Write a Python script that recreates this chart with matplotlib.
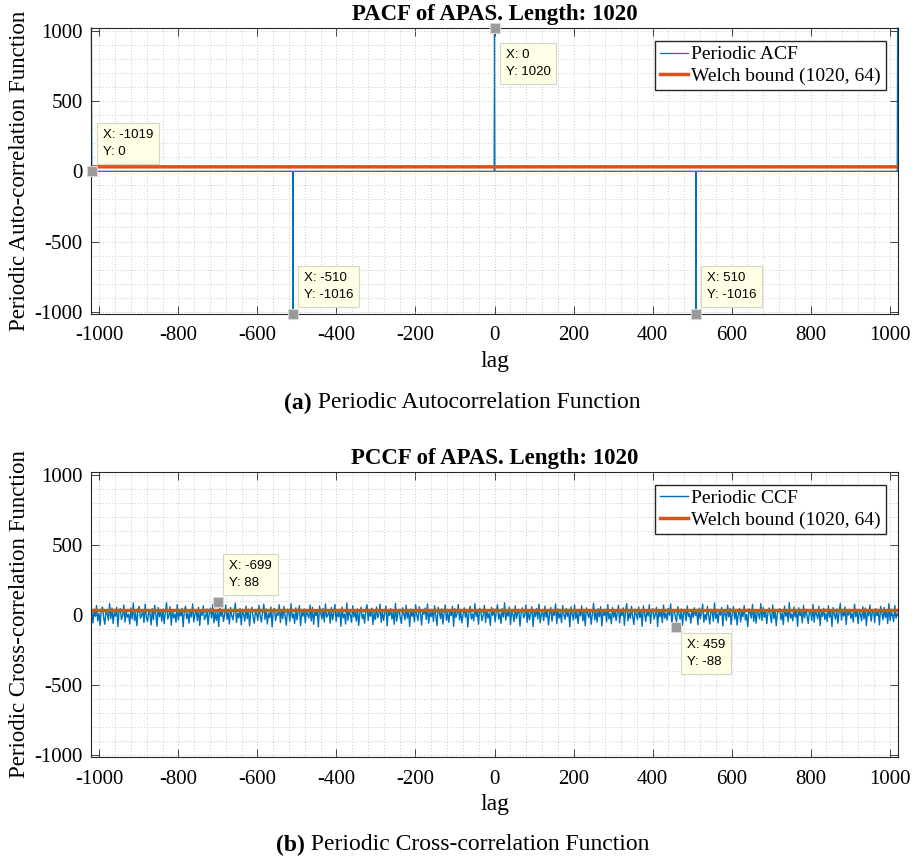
import numpy as np
import matplotlib
matplotlib.use("Agg")
import matplotlib.pyplot as plt
from matplotlib.ticker import MultipleLocator

# ---- data ----
welch = 31.7  # Welch bound (1020, 64)

acf_lag = np.arange(-1020, 1021)
acf_peak_lags = [-1020, -510, 0, 510, 1020]
acf_peak_vals = [1020, -1016, 1020, -1016, 1020]

# periodic CCF (every 3rd lag)
ccf_vals = [
    24, -58, 40, -12, 66, -44, 10, -76, 30, 56, -22, -68, 36, 8, -40, 80, -28, 48, -62, 16,
    -10, 54, -84, 22, 44, -34, -6, 70, -52, 26, -18, 4, -66, 50, -30, 84, -42, 14, -78, 38,
    60, -26, -4, 32, -56, 76, -20, -48, 22, 12, -72, 44, -36, 68, 2, -82, 52, -14, 28, -46,
    40, -64, 18, 86, -30, -10, 58, -74, 34, -22, 6, -54, 72, -38, 20, -8, 46, -86, 26, 62,
    -28, 14, -60, 36, -16, 78, -50, 4, 32, -42, 54, -76, 22, -4, 64, -34, -18, 42, -70, 10,
    48, -24, 74, -58, 16, -40, 28, -84, 60, -12, 36, -48, 0, 70, -32, 18, -66, 52, -8, -36,
    26, 82, -54, 12, -22, 46, -72, 34, 4, -46, 62, -28, 40, -80, 16, 54, -16, -60, 30, 6,
    -40, 68, -10, -52, 22, 76, -34, 42, -66, 10, -20, 56, -88, 28, 46, -42, 12, -4, 72, -56,
    34, -28, 60, -12, -74, 40, 18, -46, 80, -22, 6, -62, 50, -36, 24, 66, -78, 16, -10, 42,
    -58, 30, 4, -24, 70, -44, 54, -68, 22, -6, 36, -86, 62, 12, -30, 46, -52, 78, -18, 0,
    28, -60, 52, -36, 10, 74, -48, 18, -14, 40, -82, 56, -22, 6, -66, 84, -40, 30, -2, -54,
    64, -16, 22, -46, 42, -76, 12, 54, -28, 4, -60, 36, 72, -42, 24, -10, 48, -70, 16, -34,
    56, -22, 0, 76, -54, 28, -40, 12, 62, -80, 34, -6, 44, -30, 18, -68, 82, -46, 10, 38,
    -18, -62, 50, 6, -36, 68, -24, 30, -84, 42, -12, 22, -50, 72, -4, -42, 58, 14, -74, 28,
    4, 48, -34, 78, -60, 18, -14, 36, -48, 64, -10, -78, 54, 24, -28, 42, -66, 12, 70, -40,
    16, -54, 34, -6, 60, -82, 44, -20, 10, 74, -36, 26, -58, 4, 50, -18, 38, -88, 20, 62,
    -30, 6, -44, 80, -12, 30, -68, 48, 18, -42, 0, 68, -56, 36, -24, 12, -76, 54, -4, 42,
    -50, 24, 72, -32, 10, -62, 44, -16, 86, -38, 20, -10, 56, -70, 30, 2, -48, 64, -26, 14,
    38, -80, 18, 50, -22, -6, 70, -54, 32, -36, 12, 58, -84, 26, -12, 44, -30, 76, -58, 6,
    20, -42, 62, -18, 36, -72, 10, 52, -46, 26, -4, 78, -64, 42, -24, 14, -56, 66, 0, -32,
    46, -12, 30, -86, 56, 4, -38, 72, -26, 18, -62, 38, -8, 64, -44, 24, -78, 50, 12, -20,
    32, -68, 6, 82, -36, 20, -52, 44, -14, 58, -80, 26, -4, 38, -50, 74, -30, 8, -64, 52,
    -18, 36, -42, 12, 68, -58, 24, -6, 50, -76, 30, 80, -44, 14, -26, 60, -12, -70, 40, 2,
    -36, 56, -20, 26, -82, 64, 8, -48, 38, -10, 72, -62, 18, 44, -30, 0, 54, -84, 32, -14,
    24, -56, 70, -24, 12, -38, 46, -4, 78, -68, 20, 36, -18, -50, 58, 6, -32, 42, -74, 18,
    30, -44, 64, -12, 8, -60, 38, -20, 50, -6, 26, -72, 48, -28, 16, 76, -54, 4, -36, 60,
    -8, -66, 40, 20, -46, 84, -26, 14, -58, 34, -2, 52, -80, 28, 10, -40, 68, -16, 44, -70,
    12, 58, -32, 36, -74, 6, 46, -52, 24, -14, 66, -38, 2, -86, 42, 18, -24, 74, -48, 30,
    -60, 22, 8, -30, 80, -42, 54, -18, 34, -64, 16, 48, -4, -56, 70, -28, 38, -78, 12, 26,
    44, -36, 14, -70, 62, -10, 28, -50, 86, -24, 6, -44, 56, -16, 32, -82, 50, -6, 20, -58,
    68, -22, 40, -8, -62, 30, 18, -40, 74, -54, 36, 2, -28, 60, -76, 24, -12, 46, -34, 10,
    -48, 64, -18, 28, -84, 52, 4, -32, 42, -60, 16, 82, -38, 22, -10, 56, -70, 34, -2, 40,
    -26, 12, -52, 76, -14, 38, -64, 20, 6, -44, 58, -30, 48, -78, 26, -8, 70, -46, 14, 32,
    -56, 44, -6, 24, -72, 60, 10, -36, 52, -20, 30, -62, 80, -40, 18, 2, -48, 66, -24, 8,
]
ccf_lag = np.linspace(-1019, 1019, len(ccf_vals))

# data tips
acf_tips = [(-1019, 0), (0, 1020), (-510, -1016), (510, -1016)]
ccf_tips = [(-699, 88), (459, -88)]

# ---- style ----
W, H = 914, 861
blue = "#0072BD"
orange = "#D95319"
serif = ["Liberation Serif", "DejaVu Serif"]
plt.rcParams["font.family"] = serif
plt.rcParams["font.size"] = 15
plt.rcParams["axes.unicode_minus"] = False

fig = plt.figure(figsize=(W / 100, H / 100), dpi=100)


def px_axes(l, t, r, b):
    return fig.add_axes([l / W, 1 - b / H, (r - l) / W, (b - t) / H])


def style(ax, title, ylabel):
    ax.set_xlim(-1021, 1021)
    ax.set_ylim(-1016, 1020)
    ax.xaxis.set_major_locator(MultipleLocator(200))
    ax.yaxis.set_major_locator(MultipleLocator(500))
    ax.xaxis.set_minor_locator(MultipleLocator(40))
    ax.yaxis.set_minor_locator(MultipleLocator(100))
    ax.grid(True, which="both", ls=(0, (1, 2.5)), color="#b8b8b8", lw=0.6)
    ax.tick_params(which="major", direction="in", top=True, right=True,
                   length=5.5, width=0.6, color="#262626", labelsize=15)
    ax.tick_params(axis="x", pad=9)
    ax.tick_params(axis="y", pad=6)
    ax.tick_params(which="minor", length=0)
    for s in ax.spines.values():
        s.set_color("#262626")
        s.set_linewidth(0.8)
    ax.set_title(title, fontweight="bold", fontsize=16.5, pad=6)
    ax.set_ylabel(ylabel, fontsize=16.5, labelpad=3)
    ax.set_xlabel("lag", fontsize=17, labelpad=4)


def tip(ax, x, y, below=False, dy=7):
    ax.plot([x], [y], "s", ms=7, mfc="#9a9a9a", mec="#d8d8d8", mew=0.8,
            clip_on=False, zorder=6)
    off = (11, -(dy + 6)) if below else (11, dy + 6)
    ax.annotate(f"X: {x}\nY: {y}", (x, y), xytext=off, textcoords="offset pixels",
                ha="left", va="top" if below else "bottom",
                family=["Liberation Sans", "DejaVu Sans"], fontsize=9.5,
                linespacing=1.6, zorder=7, annotation_clip=False,
                bbox=dict(boxstyle="square,pad=0.45", fc="#FFFFE6", ec="#d6d6c8", lw=0.8))


def legend(ax):
    ax.legend(loc="upper right", bbox_to_anchor=(0.985, 0.955), fancybox=False,
              edgecolor="#262626", framealpha=1, fontsize=14, borderpad=0.25,
              labelspacing=0.2, handlelength=1.4, handletextpad=0.2, borderaxespad=0)


# ---- (a) PACF ----
acf_vals = np.zeros(acf_lag.size)
for lg, v in zip(acf_peak_lags, acf_peak_vals):
    acf_vals[acf_lag == lg] = v

ax1 = px_axes(91, 28, 898, 314)
ax1.plot(acf_lag, acf_vals, color=blue, lw=0.9, label="Periodic ACF", clip_on=False)
ax1.plot(acf_lag, np.full(acf_lag.size, welch), color=orange, lw=2.5,
         label="Welch bound (1020, 64)")
style(ax1, "PACF of APAS. Length: 1020", "Periodic Auto-correlation Function")
legend(ax1)
tip(ax1, *acf_tips[0])
tip(ax1, *acf_tips[1], below=True, dy=15)
tip(ax1, *acf_tips[2])
tip(ax1, *acf_tips[3])

# ---- (b) PCCF ----
ax2 = px_axes(91, 472, 898, 757)
ax2.plot(ccf_lag, ccf_vals, color=blue, lw=1.0, label="Periodic CCF")
ax2.plot(ccf_lag, np.full(ccf_lag.size, welch), color=orange, lw=2.5,
         label="Welch bound (1020, 64)")
style(ax2, "PCCF of APAS. Length: 1020", "Periodic Cross-correlation Function")
legend(ax2)
tip(ax2, *ccf_tips[0])
tip(ax2, *ccf_tips[1], below=True, dy=6)

# ---- captions (bold tag + plain text, centred together) ----
fig.canvas.draw()
rend = fig.canvas.get_renderer()
for xc, yc, tag, txt in [(462, 403, "(a)", " Periodic Autocorrelation Function"),
                         (463, 845, "(b)", " Periodic Cross-correlation Function")]:
    t1 = fig.text(0, 1 - yc / H, tag, ha="left", va="center", fontweight="bold", fontsize=17)
    t2 = fig.text(0, 1 - yc / H, txt, ha="left", va="center", fontsize=17)
    w1 = t1.get_window_extent(rend).width
    w2 = t2.get_window_extent(rend).width
    x0 = xc - (w1 + w2) / 2
    t1.set_x(x0 / W)
    t2.set_x((x0 + w1) / W)

fig.savefig("out.png", dpi=100)
